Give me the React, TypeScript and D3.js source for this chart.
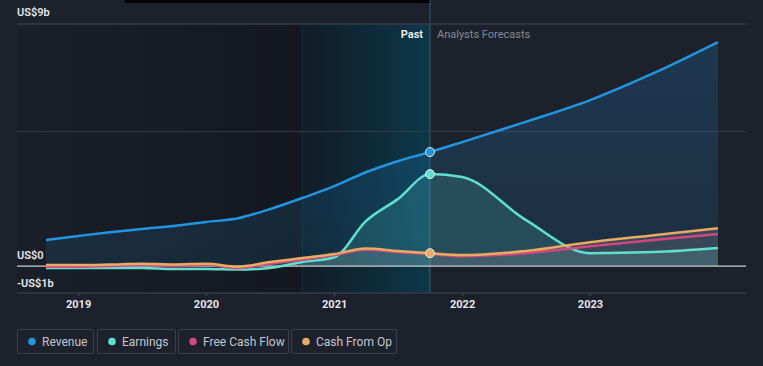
import React from 'react'
import * as d3 from 'd3'

// quarterly history, then analyst forecasts
const pastDates = ['2018-09-30', '2018-12-31', '2019-03-31', '2019-06-30', '2019-09-30', '2019-12-31', '2020-03-31', '2020-06-30', '2020-09-30', '2020-12-31', '2021-03-31', '2021-06-30', '2021-09-30']
const forecastDates = ['2021-12-31', '2022-06-30', '2022-12-31', '2023-06-30', '2023-12-31']

// values in US$ billions
const revenuePast = [0.97, 1.12, 1.26, 1.38, 1.49, 1.64, 1.78, 2.12, 2.53, 2.97, 3.49, 3.9, 4.24]
const revenueForecast = [4.61, 5.36, 6.17, 7.17, 8.33]
const earningsPast = [-0.07, -0.07, -0.07, -0.07, -0.11, -0.11, -0.13, -0.07, 0.15, 0.33, 1.67, 2.49, 3.42]
const earningsForecast = [3.31, 1.72, 0.48, 0.52, 0.67]
const fcfPast = [-0.02, -0.02, 0, 0.04, 0, 0.04, -0.07, 0.09, 0.24, 0.41, 0.61, 0.52, 0.45]
const fcfForecast = [0.37, 0.48, 0.74, 0.97, 1.19]
const cfoPast = [0.04, 0.04, 0.06, 0.09, 0.06, 0.09, -0.02, 0.15, 0.3, 0.45, 0.65, 0.56, 0.48]
const cfoForecast = [0.41, 0.56, 0.89, 1.15, 1.41]

const yearTicks = ['2019', '2020', '2021', '2022', '2023']
const legendNames = ['Revenue', 'Earnings', 'Free Cash Flow', 'Cash From Op']
const colors = ['#2394e0', '#5fe0cf', '#d2477f', '#e9aa62']

const W = 763
const H = 366
const FONT = 'Roboto, "Open Sans", sans-serif'

const App = () => {
  const parse = d3.timeParse('%Y-%m-%d')
  const dates = [...pastDates, ...forecastDates].map(d => parse(d) as Date)
  const nowDate = parse(pastDates[pastDates.length - 1]) as Date
  const highlightStart = parse('2020-09-30') as Date

  const x = d3.scaleTime()
    .domain([dates[0], dates[dates.length - 1]])
    .range([46, 718])
  const y = d3.scaleLinear().domain([-1, 9]).range([293, 24])

  const series = [
    [...revenuePast, ...revenueForecast],
    [...earningsPast, ...earningsForecast],
    [...fcfPast, ...fcfForecast],
    [...cfoPast, ...cfoForecast],
  ].map(vals => vals.map((v, i) => ({ date: dates[i], value: v })))

  const line = d3.line<{ date: Date, value: number }>()
    .x(d => x(d.date))
    .y(d => y(d.value))
    .curve(d3.curveMonotoneX)
  const area = d3.area<{ date: Date, value: number }>()
    .x(d => x(d.date))
    .y0(y(0))
    .y1(d => y(d.value))
    .curve(d3.curveMonotoneX)

  const areaFills = ['url(#revFill)', 'rgba(95,224,207,0.16)', 'rgba(0,0,0,0)', 'rgba(190,190,200,0.17)']
  const xNow = x(nowDate)
  const xHl = x(highlightStart)
  const left = 17
  const right = 746
  const nowIdx = pastDates.length - 1

  // legend layout
  const legendX = [17, 97, 178, 291]
  const legendW = [76, 78, 110, 105]

  return (
    <svg width={W} height={H} style={{ position: 'absolute', left: 0, top: 0, display: 'block' }} fontFamily={FONT}>
      <defs>
        <linearGradient id='pastShade' x1='0' x2='1' y1='0' y2='0'>
          <stop offset='0%' stopColor='#000' stopOpacity={0.06} />
          <stop offset='100%' stopColor='#000' stopOpacity={0.3} />
        </linearGradient>
        <linearGradient id='hlShade' x1='0' x2='1' y1='0' y2='0'>
          <stop offset='0%' stopColor='#0c1a24' stopOpacity={0.7} />
          <stop offset='100%' stopColor='#093e52' stopOpacity={0.8} />
        </linearGradient>
        <linearGradient id='revFill' x1='0' x2='0' y1='0' y2='1'>
          <stop offset='0%' stopColor='#2394e0' stopOpacity={0.2} />
          <stop offset='100%' stopColor='#2394e0' stopOpacity={0.12} />
        </linearGradient>
      </defs>
      <rect width={W} height={H} fill='#1c212c' />
      <rect x={125} y={0} width={xNow - 125} height={3} fill='#000' />

      {/* past / highlight shading */}
      <rect x={left} y={y(9)} width={xHl - left} height={y(-1) - y(9)} fill='url(#pastShade)' />
      <rect x={xHl} y={y(9)} width={xNow - xHl} height={y(-1) - y(9)} fill='url(#hlShade)' />
      <line x1={xHl} x2={xHl} y1={y(9)} y2={y(-1)} stroke='#2e4350' strokeOpacity={0.5} />
      <line x1={xNow} x2={xNow} y1={0} y2={y(-1)} stroke='#3f7e92' strokeOpacity={0.65} />

      {/* grid */}
      {[9, 5, -1].map(v => (
        <line key={v} x1={left} x2={right} y1={y(v)} y2={y(v)} stroke='#363b47' strokeWidth={v === 5 ? 1 : 1.5} />
      ))}

      {/* areas */}
      {series.map((s, i) => (
        <path key={'a' + i} d={area(s) || ''} fill={areaFills[i]} />
      ))}

      <line x1={left} x2={right} y1={y(0)} y2={y(0)} stroke='#c9ccd2' strokeWidth={1.2} />

      {/* lines, drawn back to front */}
      {[1, 2, 3, 0].map(i => (
        <path key={'l' + i} d={line(series[i]) || ''} fill='none' stroke={colors[i]} strokeWidth={2.5} />
      ))}

      {/* markers at today */}
      {[0, 1, 3].map(i => (
        <circle key={'m' + i} cx={xNow} cy={y(series[i][nowIdx].value)} r={4.5} fill={colors[i]} stroke='#e8eef2' strokeWidth={1} />
      ))}

      {/* y labels */}
      <text x={17} y={16} fontSize={11} fontWeight={600} fill='#e6e8ec'>US$9b</text>
      <text x={17} y={259} fontSize={11} fontWeight={600} fill='#e6e8ec'>US$0</text>
      <text x={17} y={287} fontSize={11} fontWeight={600} fill='#e6e8ec'>-US$1b</text>

      <text x={xNow - 7} y={38} fontSize={11} fontWeight={600} fill='#f0f2f5' textAnchor='end'>Past</text>
      <text x={xNow + 7} y={38} fontSize={11} fill='#868a92'>Analysts Forecasts</text>

      {/* x axis */}
      {yearTicks.map(t => {
        const tx = x(parse(t + '-01-01') as Date)
        return (
          <g key={t}>
            <line x1={tx} x2={tx} y1={y(-1)} y2={y(-1) + 3} stroke='#4a4f5a' />
            <text x={tx} y={308} fontSize={11} fontWeight={700} fill='#e6e8ec' textAnchor='middle'>{t}</text>
          </g>
        )
      })}

      {/* legend */}
      {legendNames.map((n, i) => (
        <g key={n}>
          <rect x={legendX[i] + 0.5} y={329.5} width={legendW[i]} height={24} fill='none' stroke='#3a3f4b' rx={1.5} />
          <circle cx={legendX[i] + 15} cy={341.5} r={3.8} fill={colors[i]} />
          <text x={legendX[i] + 25} y={345.5} fontSize={12} fill='#c4c7ce'>{n}</text>
        </g>
      ))}
    </svg>
  )
}

export default App
